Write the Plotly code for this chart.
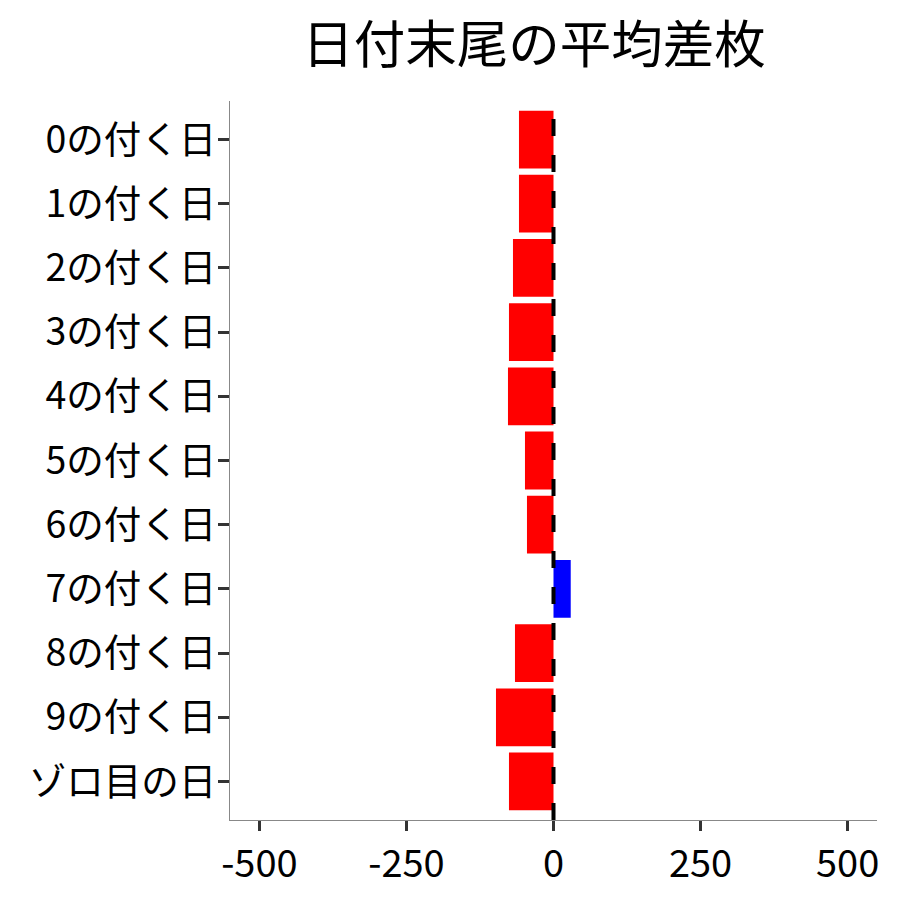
import plotly.graph_objects as go

categories = ["0の付く日", "1の付く日", "2の付く日", "3の付く日", "4の付く日",
              "5の付く日", "6の付く日", "7の付く日", "8の付く日", "9の付く日",
              "ゾロ目の日"]
values = [-58.7, -58.7, -68.9, -75.7, -77.4, -48.5, -45.1, 29.3, -65.5, -97.8, -75.7]
x_ticks = [-500, -250, 0, 250, 500]

colors = ["#FF0000" if v < 0 else "#0000FF" for v in values]

fig = go.Figure(
    go.Bar(
        x=values,
        y=categories,
        orientation="h",
        marker=dict(color=colors, line=dict(width=0)),
        width=0.9,
        showlegend=False,
    )
)

# zero reference line, dashed, drawn over the bars
fig.add_shape(
    type="line", x0=0, x1=0, y0=0, y1=1, xref="x", yref="paper",
    line=dict(color="black", width=4, dash="17px,19px"),
    layer="above",
)

font_family = "Noto Sans CJK JP"

fig.update_layout(
    width=900,
    height=900,
    paper_bgcolor="white",
    plot_bgcolor="white",
    margin=dict(l=230, r=23, t=101, b=80),
    title=dict(
        text="日付末尾の平均差枚",
        x=534 / 900,
        xanchor="center",
        y=1 - 45 / 900,
        yanchor="middle",
        font=dict(family=font_family, size=51.5, color="black"),
    ),
    font=dict(family=font_family, color="black"),
)

fig.update_xaxes(
    range=[-550, 550],
    tickvals=x_ticks,
    ticktext=[str(t) for t in x_ticks],
    showgrid=False,
    zeroline=False,
    showline=True,
    linecolor="#888888",
    linewidth=1.3,
    ticks="outside",
    ticklen=10,
    tickwidth=3,
    tickcolor="#333333",
    tickfont=dict(family=font_family, size=38, color="black"),
)

fig.update_yaxes(
    categoryorder="array",
    categoryarray=categories[::-1],
    range=[-0.6, len(categories) - 0.4],
    showgrid=False,
    zeroline=False,
    showline=True,
    linecolor="#888888",
    linewidth=1.3,
    ticks="outside",
    ticklen=11,
    tickwidth=3,
    tickcolor="#333333",
    ticklabelstandoff=-6,
    tickfont=dict(family=font_family, size=37.5, color="black"),
)

fig.write_html(
    "out.html",
    config={"displayModeBar": False},
    post_script="document.body.style.margin='0';",
)
